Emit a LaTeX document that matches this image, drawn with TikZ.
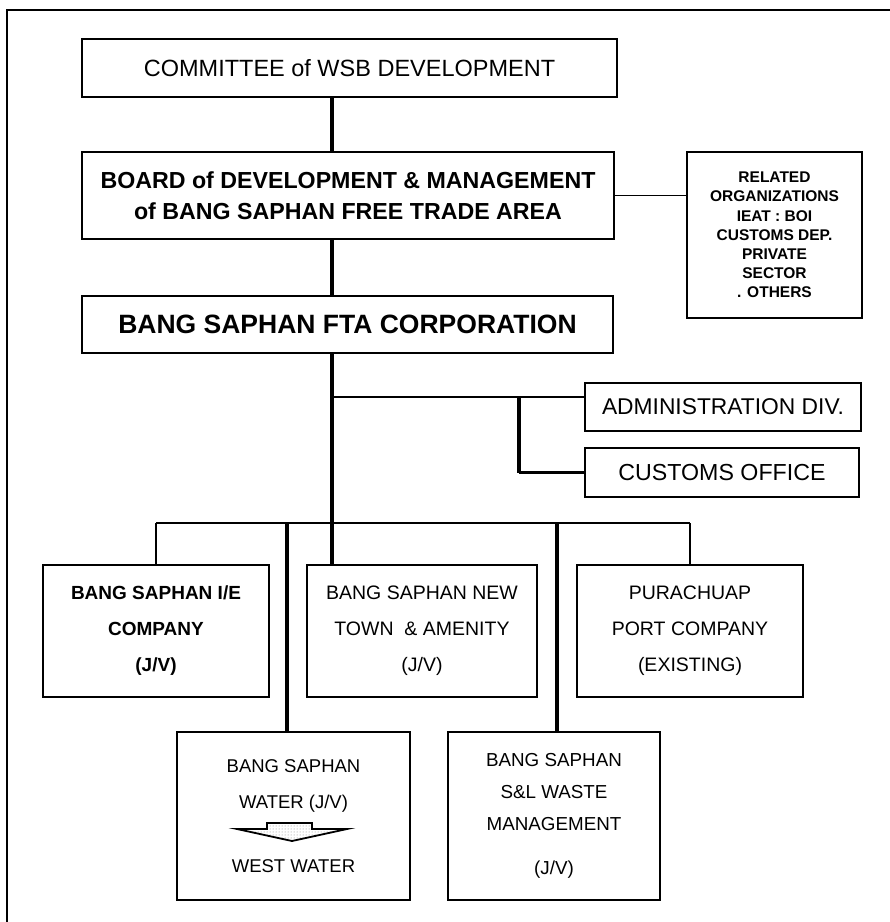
\documentclass[tikz,border=0pt]{standalone}
\usepackage{fontspec}
\setmainfont{Liberation Sans}
\usetikzlibrary{patterns}
\begin{document}
\begin{tikzpicture}[x=1pt,y=-1pt,
  box/.style={draw,line width=1.9pt,inner sep=0pt,align=center,anchor=center},
  trunk/.style={line width=3.2pt},
  bus/.style={line width=2.1pt},
  thinlink/.style={line width=1.3pt},
  frameline/.style={line width=2.6pt}]
\useasboundingbox (0,0) rectangle (890,922);

% outer frame (top and left edges)
\draw[frameline] (7,922) -- (7,10);
\draw[line width=1.4pt] (6,10) -- (890,10);

% upper chain
\node[box,minimum width=535,minimum height=58,
      font=\fontsize{23.5}{28}\selectfont] (com) at (349.5,68)
      {COMMITTEE of WSB DEVELOPMENT};
\node[box,minimum width=532,minimum height=87,
      font=\fontsize{23.2}{31}\selectfont\bfseries] (board) at (348,195.5)
      {BOARD of DEVELOPMENT \& MANAGEMENT\\of BANG SAPHAN FREE TRADE AREA};
\node[box,minimum width=175,minimum height=166,
      font=\fontsize{15.5}{19.2}\selectfont\bfseries] (related) at (774.5,235)
      {RELATED\\ORGANIZATIONS\\IEAT : BOI\\CUSTOMS DEP.\\PRIVATE\\SECTOR\\. OTHERS};
\node[box,minimum width=531,minimum height=57,
      font=\fontsize{26.5}{30}\selectfont\bfseries] (corp) at (347.5,324.5)
      {BANG SAPHAN FTA CORPORATION};

% staff units
\node[box,minimum width=276,minimum height=48,
      font=\fontsize{22.8}{27}\selectfont] (admin) at (723,407)
      {ADMINISTRATION DIV.};
\node[box,minimum width=274,minimum height=49,
      font=\fontsize{23.2}{27}\selectfont] (customs) at (722,472.5)
      {CUSTOMS OFFICE};

% operating companies, first row
\node[box,minimum width=226,minimum height=132,
      font=\fontsize{19}{36}\selectfont\bfseries] (ie) at (156,631)
      {BANG SAPHAN I/E\\COMPANY\\(J/V)};
\node[box,minimum width=230,minimum height=132,
      font=\fontsize{19.5}{36}\selectfont] (newtown) at (422,631)
      {BANG SAPHAN NEW\\TOWN \ \& AMENITY\\(J/V)};
\node[box,minimum width=226,minimum height=132,
      font=\fontsize{19.5}{36}\selectfont] (port) at (690,631)
      {PURACHUAP\\PORT COMPANY\\(EXISTING)};

% operating companies, second row
\node[box,minimum width=233,minimum height=168,
      font=\fontsize{18.5}{36}\selectfont] (water) at (293.5,816)
      {BANG SAPHAN\\WATER (J/V)\\[28pt]WEST WATER};
\node[box,minimum width=212,minimum height=168,
      font=\fontsize{18.8}{32}\selectfont] (waste) at (554,816)
      {BANG SAPHAN\\S\&L WASTE\\MANAGEMENT\\[12pt](J/V)};

% block arrow inside the water box
\draw[line width=1.8pt,line join=miter,pattern=dots,pattern color=gray]
  (237,829) -- (267,829) -- (267,823) -- (312,823) -- (312,829)
  -- (347,829) -- (292,841) -- cycle;

% trunk line
\coordinate (tx) at (332,0);
\draw[trunk] (com.south -| tx) -- (board.north -| tx);
\draw[trunk] (board.south -| tx) -- (corp.north -| tx);
\draw[trunk] (corp.south -| tx) -- (newtown.north -| tx);

% link to related organizations
\draw[thinlink] (board.east) -- (related.west |- board.east);

% staff branch
\coordinate (ja) at (332,397);
\coordinate (jb) at (519,397);
\draw[bus] (ja) -- (admin.west |- ja);
\draw[trunk] (jb) -- (jb |- customs.west);
\draw[bus] (jb |- customs.west) -- (customs.west);

% company bus
\coordinate (bl) at (0,523);
\draw[bus] (ie.north |- bl) -- (port.north |- bl);
\draw[bus] (ie.north |- bl) -- (ie.north);
\draw[bus] (port.north |- bl) -- (port.north);
\coordinate (wx) at (287,523);
\coordinate (sx) at (557,523);
\draw[trunk] (wx) -- (water.north -| wx);
\draw[trunk] (sx) -- (waste.north -| sx);
\end{tikzpicture}
\end{document}
